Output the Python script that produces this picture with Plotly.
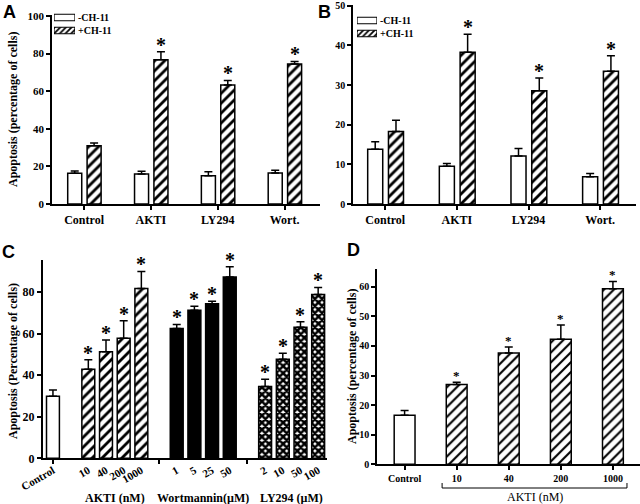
import plotly.graph_objects as go

# --- Panel A / B data (-CH-11 vs +CH-11)
groups_ab = ["Control", "AKTI", "LY294", "Wort."]
series_names = ["-CH-11", "+CH-11"]

a_minus = [16.4, 16.0, 15.0, 16.5]
a_minus_err = [1.2, 1.4, 2.1, 1.5]
a_plus = [31.0, 76.7, 63.3, 74.4]
a_plus_err = [1.4, 4.3, 2.4, 1.4]
a_star = [False, True, True, True]

b_minus = [13.8, 9.5, 12.1, 6.9]
b_minus_err = [1.9, 0.7, 1.9, 0.8]
b_plus = [18.3, 38.3, 28.6, 33.5]
b_plus_err = [2.8, 4.5, 3.2, 3.9]
b_star = [False, True, True, True]

# --- Panel C data (dose series)
c_groups = ["", "AKTI (nM)", "Wortmannin(\u00b5M)", "LY294 (\u00b5M)"]
c_labels = [["Control"], ["10", "40", "200", "1000"], ["1", "5", "25", "50"], ["2", "10", "50", "100"]]
c_values = [[29.8], [42.8, 51.3, 57.7, 81.7], [62.5, 71.2, 74.4, 87.2], [34.5, 47.6, 63.1, 78.8]]
c_err = [[3.1], [4.6, 5.6, 8.5, 8.2], [1.9, 2.0, 1.1, 4.9], [3.5, 2.9, 2.6, 3.4]]
c_star = [[False], [True] * 4, [True] * 4, [True] * 4]

# --- Panel D data
d_labels = ["Control", "10", "40", "200", "1000"]
d_values = [16.6, 27.0, 37.6, 42.3, 59.3]
d_err = [1.6, 0.7, 2.0, 4.8, 2.5]
d_star = [False, True, True, True, True]

W, H = 640, 504
SERIF = "Liberation Serif, Times New Roman, serif"
SANS = "Liberation Sans, Arial, sans-serif"


def px(x):
    return x / W


def py(y):
    return 1 - y / H


def err(arr):
    return dict(type="data", array=arr, arrayminus=[0] * len(arr), symmetric=False,
                color="black", thickness=1.5, width=4)


def note(**kw):
    d = dict(showarrow=False, xanchor="center", yanchor="middle")
    d.update(kw)
    return d


def bold(size):
    return dict(family=SERIF, size=size, weight="bold", color="black")


hatch = dict(shape="/", size=7, solidity=0.4, fgcolor="black", bgcolor="white")
fig = go.Figure()

# --- A and B
bw = 0.21
for vals, errs, ax in [((a_minus, a_plus), (a_minus_err, a_plus_err), ""),
                       ((b_minus, b_plus), (b_minus_err, b_plus_err), "2")]:
    fig.add_trace(go.Bar(x=groups_ab, y=vals[0], width=bw, offset=-0.245, name=series_names[0],
                         marker=dict(color="white", line=dict(color="black", width=1.5)),
                         error_y=err(errs[0]), xaxis="x" + ax, yaxis="y" + ax, showlegend=False))
    fig.add_trace(go.Bar(x=groups_ab, y=vals[1], width=bw, offset=0.045, name=series_names[1],
                         marker=dict(color="white", pattern=hatch, line=dict(color="black", width=1.5)),
                         error_y=err(errs[1]), xaxis="x" + ax, yaxis="y" + ax, showlegend=False))

# small legend keys: one swatch per series on its own little axis pair
for ax in ["5", "6"]:
    fig.add_trace(go.Bar(y=series_names, x=[1, 1], orientation="h", width=0.5, showlegend=False,
                         marker=dict(color="white", line=dict(color="black", width=1.2),
                                     pattern=dict(shape=["", "/"], size=4, solidity=0.45,
                                                  fgcolor="black", bgcolor="white")),
                         xaxis="x" + ax, yaxis="y" + ax, hoverinfo="skip"))

annotations = []
for stars, vals, errs, ax in [(a_star, a_plus, a_plus_err, ""), (b_star, b_plus, b_plus_err, "2")]:
    for i, s in enumerate(stars):
        if s:
            annotations.append(note(x=i + 0.15, y=vals[i] + errs[i], xref="x" + ax, yref="y" + ax,
                                    text="*", yanchor="bottom", yshift=-6, font=bold(20)))

# --- C
c_styles = [
    dict(color="white"),
    dict(color="white", pattern=hatch),
    dict(color="black"),
    dict(color="white", pattern=dict(shape="x", size=5, solidity=0.75, fgcolor="black", bgcolor="white")),
]
pos = 0
c_tickvals, c_ticktext = [], []
for g, (labels, vals, errs, stars) in enumerate(zip(c_labels, c_values, c_err, c_star)):
    xs = list(range(pos, pos + len(labels)))
    pos += len(labels) + 1
    c_tickvals += xs
    c_ticktext += labels
    fig.add_trace(go.Bar(x=xs, y=vals, width=0.73, showlegend=False,
                         marker=dict(**c_styles[g], line=dict(color="black", width=1.5)),
                         error_y=err(errs), xaxis="x3", yaxis="y3"))
    for x, v, e, s in zip(xs, vals, errs, stars):
        if s:
            annotations.append(note(x=x, y=v + e, xref="x3", yref="y3", text="*",
                                    yanchor="bottom", yshift=-6, font=bold(20)))
    if c_groups[g]:
        annotations.append(note(x=sum(xs) / len(xs), y=py(498), xref="x3", yref="paper",
                                text=c_groups[g], font=bold(12)))

# --- D
fig.add_trace(go.Bar(x=d_labels, y=d_values, width=0.4, showlegend=False,
                     marker=dict(color="white",
                                 pattern=dict(shape=[""] + ["/"] * 4, size=7, solidity=0.3,
                                              fgcolor="black", bgcolor="white"),
                                 line=dict(color="black", width=1.5)),
                     error_y=err(d_err), xaxis="x4", yaxis="y4"))
for i, s in enumerate(d_star):
    if s:
        annotations.append(note(x=i, y=d_values[i] + d_err[i], xref="x4", yref="y4", text="*",
                                yanchor="bottom", yshift=-3, font=bold(13)))

annotations.append(note(x=2.5, y=py(497), xref="x4", yref="paper", text="AKTI (nM)",
                        font=dict(family=SERIF, size=12, color="black")))

# y-axis titles and panel letters
annotations += [
    note(x=px(13), y=py(110), xref="paper", yref="paper", text="Apoptosis (percentage of cells)",
         textangle=-90, font=bold(12)),
    note(x=px(13), y=py(361), xref="paper", yref="paper", text="Apoptosis (Percentage of cells)",
         textangle=-90, font=bold(12)),
    note(x=px(352), y=py(367), xref="paper", yref="paper", text="Apoptosis (percentage of cells)",
         textangle=-90, font=bold(12)),
]
for letter, x, y in [("A", 9, 12), ("B", 324, 12), ("C", 8, 252), ("D", 353, 250)]:
    annotations.append(note(x=px(x), y=py(y), xref="paper", yref="paper", text=letter,
                            font=dict(family=SANS, size=18, weight="bold", color="black")))

shapes = [dict(type="path", xref="x4", yref="paper",
               path=f"M 0.72 {py(483)} L 0.72 {py(488)} L 4.27 {py(488)} L 4.27 {py(483)}",
               line=dict(color="black", width=1))]

axis = dict(showline=True, linecolor="black", linewidth=1.5, ticks="outside", ticklen=4,
            tickcolor="black", tickwidth=1.5, showgrid=False, zeroline=False, automargin=False,
            tickfont=bold(12))
small = dict(axis, tickfont=bold(10))
key_x = dict(visible=False, range=[0, 1], fixedrange=True, automargin=False)
key_y = dict(showline=False, showgrid=False, zeroline=False, ticks="", side="right",
             autorange="reversed", type="category", automargin=False, fixedrange=True,
             tickmode="array", tickvals=series_names, ticktext=series_names,
             tickfont=bold(10), ticklabelstandoff=2)

fig.update_layout(
    template="none",
    width=W, height=H, margin=dict(l=0, r=0, t=0, b=0, pad=0),
    font=dict(family=SERIF, color="black"),
    paper_bgcolor="white", plot_bgcolor="rgba(0,0,0,0)", barmode="overlay", showlegend=False,
    xaxis=dict(axis, domain=[px(52), px(320)], anchor="y", range=[-0.48, 3.53], type="category"),
    yaxis=dict(axis, domain=[py(204), py(15)], anchor="x", range=[0, 100.5], dtick=20,
               tickfont=bold(11)),
    xaxis2=dict(axis, domain=[px(353), px(636)], anchor="y2", range=[-0.45, 3.5], type="category"),
    yaxis2=dict(small, domain=[py(204), py(5)], anchor="x2", range=[0, 50.2], dtick=10),
    xaxis3=dict(axis, domain=[px(42.7), px(327)], anchor="y3", range=[-0.58, 15.5],
                tickvals=c_tickvals, ticktext=c_ticktext, tickangle=-30, ticks="", ticklen=0,
                tickfont=bold(11),
                minor=dict(tickvals=[0, 6, 11], ticks="outside", ticklen=4, tickcolor="black",
                           tickwidth=1.5)),
    yaxis3=dict(axis, domain=[py(458.3), py(260)], anchor="x3", range=[0, 95.4], dtick=20),
    xaxis4=dict(small, domain=[px(377), 1], anchor="y4", range=[-0.53, 4.52], type="category"),
    yaxis4=dict(small, domain=[py(464.3), py(269)], anchor="x4", range=[0, 66], dtick=10),
    xaxis5=dict(key_x, domain=[px(54), px(75)], anchor="y5"),
    yaxis5=dict(key_y, domain=[py(37), py(11)], anchor="x5"),
    xaxis6=dict(key_x, domain=[px(357), px(377)], anchor="y6"),
    yaxis6=dict(key_y, domain=[py(40), py(14)], anchor="x6"),
    annotations=annotations, shapes=shapes,
)

# page body has a default 8px margin; drop it so the figure sits at the window's corner
fig.write_html("out.html", config={"displayModeBar": False},
               post_script="document.body.style.margin='0px';")
